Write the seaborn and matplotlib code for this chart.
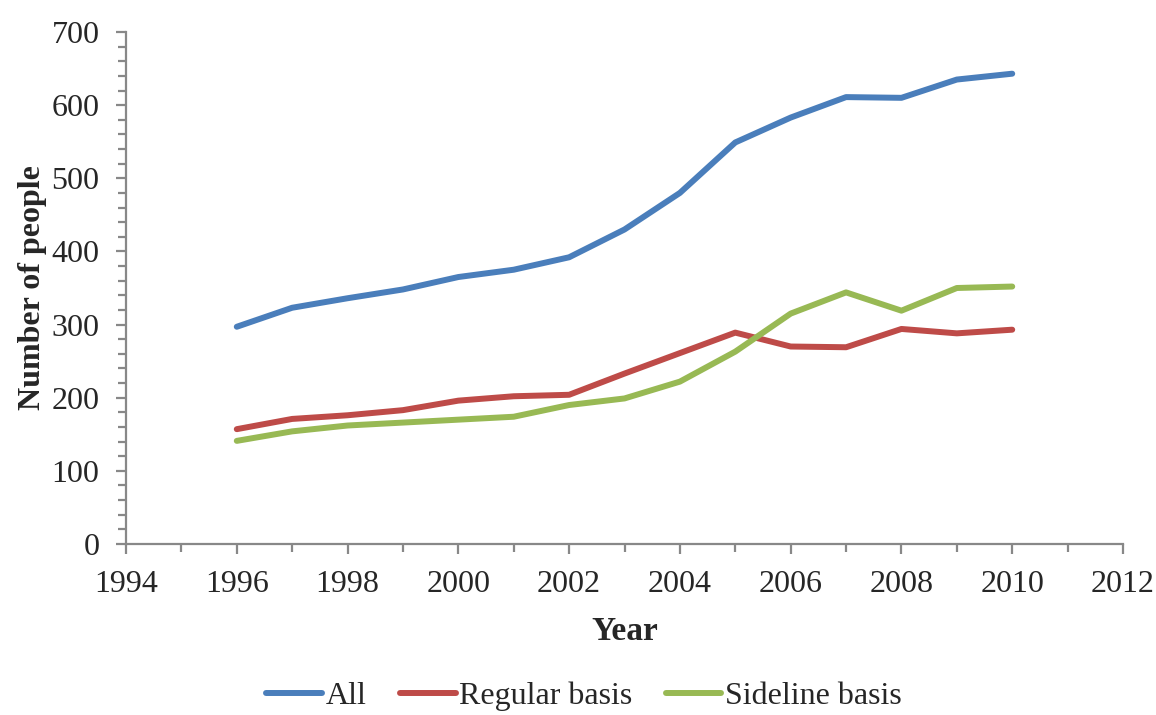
import matplotlib
matplotlib.use("Agg")
import matplotlib.pyplot as plt
from matplotlib.ticker import MultipleLocator
import pandas as pd
import seaborn as sns

years = [1996, 1997, 1998, 1999, 2000, 2001, 2002, 2003, 2004, 2005, 2006, 2007, 2008, 2009, 2010]
all_people = [297, 323, 336, 348, 365, 375, 392, 430, 480, 549, 583, 611, 610, 635, 643]
regular_basis = [157, 171, 176, 183, 196, 202, 204, 233, 261, 289, 270, 269, 294, 288, 293]
sideline_basis = [141, 154, 162, 166, 170, 174, 190, 199, 222, 263, 315, 344, 319, 350, 352]

series_names = ["All", "Regular basis", "Sideline basis"]
series_colors = ["#4A7EBB", "#BE4B48", "#98B954"]

df = pd.DataFrame({
    "Year": years * 3,
    "Number of people": all_people + regular_basis + sideline_basis,
    "Series": [series_names[0]] * len(years)
    + [series_names[1]] * len(years)
    + [series_names[2]] * len(years),
})

sns.set_theme(style="white")
plt.rcParams["font.family"] = ["Liberation Serif", "DejaVu Serif"]

fig = plt.figure(figsize=(11.56, 7.15), dpi=100)
ax = fig.add_axes([126 / 1156, 1 - 544 / 715, (1123 - 126) / 1156, (544 - 32) / 715])

line_w = 4.3
sns.lineplot(
    data=df, x="Year", y="Number of people", hue="Series",
    hue_order=series_names, palette=series_colors,
    linewidth=line_w, ax=ax, legend=False,
    solid_capstyle="round", solid_joinstyle="round",
)

ax.set_xlim(1994, 2012)
ax.set_ylim(0, 700)
ax.xaxis.set_major_locator(MultipleLocator(2))
ax.xaxis.set_minor_locator(MultipleLocator(1))
ax.yaxis.set_major_locator(MultipleLocator(100))
ax.yaxis.set_minor_locator(MultipleLocator(20))

spine_color = "#888888"
for side in ["top", "right"]:
    ax.spines[side].set_visible(False)
for side in ["left", "bottom"]:
    ax.spines[side].set_color(spine_color)
    ax.spines[side].set_linewidth(1.6)

ax.tick_params(axis="both", which="both", direction="out", color=spine_color, width=1.6)
ax.tick_params(axis="both", which="major", length=7, labelsize=23)
ax.tick_params(axis="both", which="minor", length=6)
ax.tick_params(axis="x", which="major", pad=12)
ax.tick_params(axis="y", which="major", pad=12)
ax.tick_params(axis="x", which="both", bottom=True)
ax.tick_params(axis="y", which="both", left=True)

ax.set_xlabel("Year", fontsize=24, fontweight="bold", labelpad=12)
ax.set_ylabel("Number of people", fontsize=23, fontweight="bold", labelpad=3)

handles = [plt.Line2D([], [], color=c, linewidth=line_w, solid_capstyle="round") for c in series_colors]
fig.legend(
    handles, series_names, loc="center", bbox_to_anchor=(0.505, 0.026),
    ncol=3, frameon=False, fontsize=23, handlelength=1.75, handletextpad=0.1,
    columnspacing=1.05,
)

fig.savefig("out.png", dpi=100)
